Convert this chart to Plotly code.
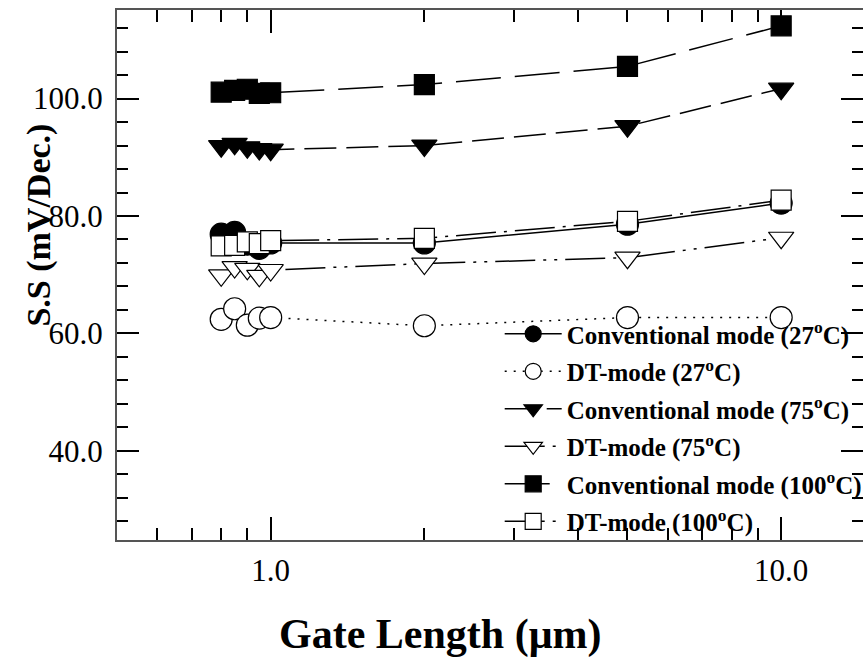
import plotly.graph_objects as go

# Gate length (um) and subthreshold swing (mV/dec) for each operating mode
gate_length = [0.8, 0.85, 0.9, 0.95, 1.0, 2.0, 5.0, 10.0]

conv_27 = [76.9, 77.2, 75.2, 74.5, 75.4, 75.4, 78.6, 82.2]
dt_27 = [62.4, 64.2, 61.4, 62.6, 62.7, 61.3, 62.7, 62.7]
conv_75 = [91.9, 92.3, 91.7, 91.4, 91.3, 92.0, 95.3, 101.7]
dt_75 = [69.9, 71.3, 71.0, 69.8, 70.8, 71.9, 72.9, 76.3]
conv_100 = [101.1, 101.4, 101.6, 100.9, 101.0, 102.4, 105.5, 112.4]
dt_100 = [74.9, 75.0, 75.6, 75.3, 75.8, 76.2, 79.1, 82.7]

x_tick_vals = [1, 10]
x_tick_text = ["1.0", "10.0"]
x_minor_vals = [0.6, 0.7, 0.8, 0.9, 2, 3, 4, 5, 6, 7, 8, 9]
y_tick_vals = [40, 60, 80, 100]
y_tick_text = ["40.0", "60.0", "80.0", "100.0"]

series = [
    ("Conventional mode (27<sup>o</sup>C)", conv_27, "circle", "black", "solid", 22),
    ("DT-mode (27<sup>o</sup>C)", dt_27, "circle", "white", "2px,7px", 22),
    ("Conventional mode (75<sup>o</sup>C)", conv_75, "triangle-down", "black", "32px,10px", 22),
    ("DT-mode (75<sup>o</sup>C)", dt_75, "triangle-down", "white", "40px,8px,3px,8px,3px,8px", 22),
    ("Conventional mode (100<sup>o</sup>C)", conv_100, "square", "black", "45px,14px", 20),
    ("DT-mode (100<sup>o</sup>C)", dt_100, "square", "white", "40px,8px,3px,8px", 20),
]

fig = go.Figure()
for i, (name, vals, sym, fill, dash, size) in enumerate(series):
    fig.add_trace(go.Scatter(
        x=gate_length, y=vals, name=name, mode="lines+markers",
        legendgroup=str(i),
        line=dict(color="black", width=1.5, dash=dash),
        marker=dict(symbol=sym, size=size, color=fill,
                    line=dict(color="black", width=1.2)),
    ))

serif = "Liberation Serif, Times New Roman, serif"

fig.update_layout(
    width=863, height=657,
    margin=dict(l=117, r=0, t=10, b=117, autoexpand=False),
    paper_bgcolor="white", plot_bgcolor="white",
    font=dict(family=serif, color="black"),
    showlegend=True,
    legend=dict(
        x=0.513, y=0.432, xanchor="left", yanchor="top",
        bgcolor="rgba(0,0,0,0)", borderwidth=0,
        font=dict(family=serif, size=25, color="black", weight="bold"),
        itemwidth=57, tracegroupgap=2,
    ),
    xaxis=dict(
        type="log", range=[-0.30103, 1.1603],
        tickmode="array", tickvals=x_tick_vals, ticktext=x_tick_text,
        ticks="inside", ticklen=23, tickwidth=1.5, tickcolor="black",
        minor=dict(tickvals=x_minor_vals, ticks="inside", ticklen=12,
                   tickwidth=1.5, tickcolor="black", showgrid=False),
        showline=True, linecolor="#555", linewidth=2, mirror="ticks",
        showgrid=False, zeroline=False,
        tickfont=dict(family=serif, size=31, color="black"),
        ticklabelstandoff=2,
    ),
    yaxis=dict(
        range=[24.8, 115.1],
        tickmode="array", tickvals=y_tick_vals, ticktext=y_tick_text,
        ticks="inside", ticklen=22, tickwidth=1.5, tickcolor="black",
        minor=dict(dtick=4, tick0=0, ticks="inside", ticklen=11,
                   tickwidth=1.5, tickcolor="black", showgrid=False),
        showline=True, linecolor="#555", linewidth=2, mirror=False,
        showgrid=False, zeroline=False,
        tickfont=dict(family=serif, size=31, color="black"),
        ticklabelstandoff=6,
    ),
    yaxis2=dict(
        overlaying="y", side="right", anchor="x",
        range=[24.8, 115.1],
        tickmode="array", tickvals=y_tick_vals, showticklabels=False,
        ticks="inside", ticklen=22, tickwidth=1.5, tickcolor="black",
        minor=dict(dtick=4, tick0=0, ticks="inside", ticklen=11,
                   tickwidth=1.5, tickcolor="black", showgrid=False),
        showline=False, showgrid=False, zeroline=False,
    ),
    annotations=[
        dict(text="<b>Gate Length (\u03bcm)</b>", xref="paper", yref="paper",
             x=0.433, y=-0.179, xanchor="center", yanchor="middle",
             showarrow=False, font=dict(family=serif, size=42, color="black")),
        dict(text="<b>S.S (mV/Dec.)</b>", xref="paper", yref="paper",
             x=-0.104, y=0.594, xanchor="center", yanchor="middle",
             textangle=-90, showarrow=False,
             font=dict(family=serif, size=34, color="black")),
    ],
)

# an invisible trace keeps the right-hand tick axis active
fig.add_trace(go.Scatter(x=[1], y=[50], yaxis="y2", mode="markers",
                         marker=dict(opacity=0), showlegend=False,
                         hoverinfo="skip"))

fig.write_html("out.html")
